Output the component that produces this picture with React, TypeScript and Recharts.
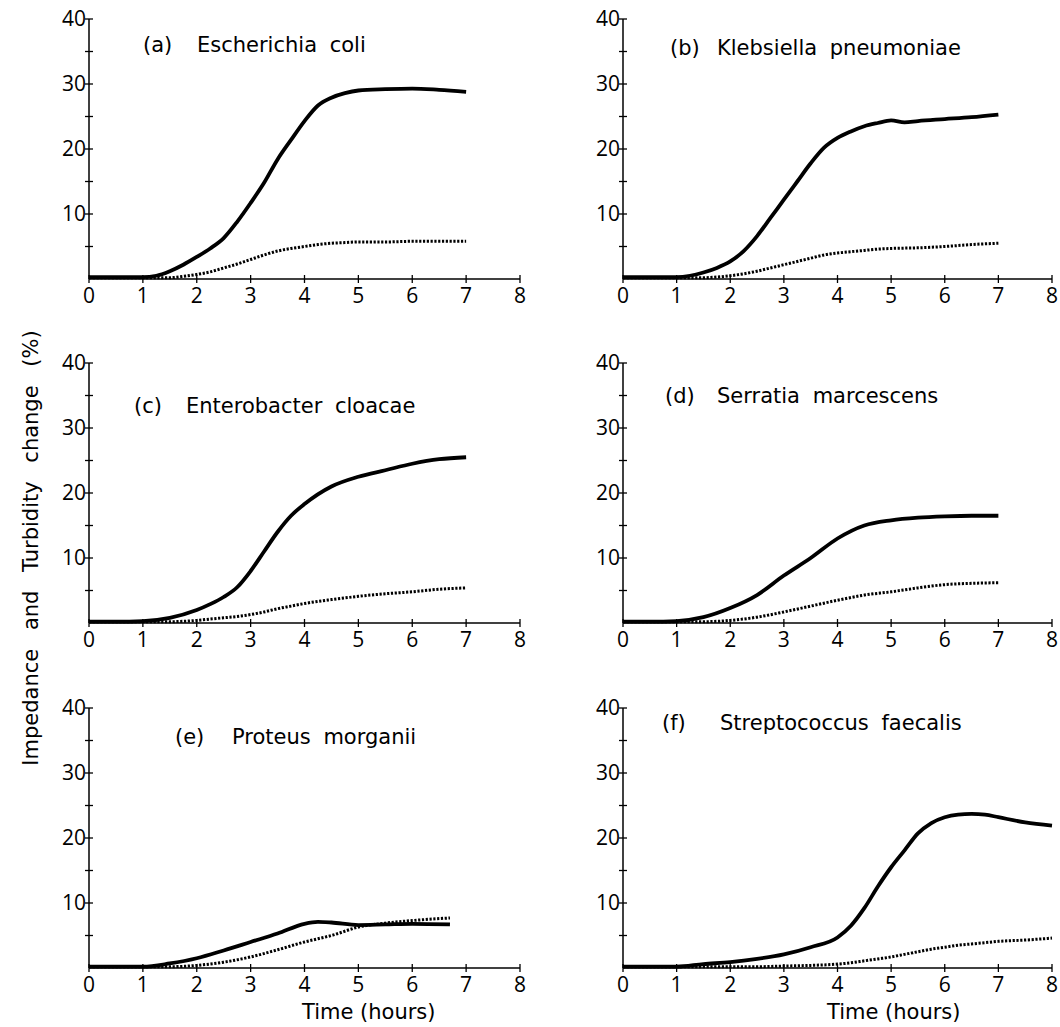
import React from 'react';
import { LineChart, Line, XAxis, YAxis } from 'recharts';

// ---- data (time in hours, values in % change) ----
const timeA = [0, 0.5, 1, 1.25, 1.5, 1.75, 2, 2.25, 2.5, 2.75, 3, 3.25, 3.5, 3.75, 4, 4.25, 4.5, 4.75, 5, 5.5, 6, 6.5, 7];
const impedanceA = [0.3, 0.3, 0.3, 0.5, 1.2, 2.2, 3.4, 4.7, 6.3, 8.8, 11.7, 14.8, 18.4, 21.4, 24.3, 26.7, 27.9, 28.6, 29.0, 29.2, 29.3, 29.1, 28.8];
const turbidityA = [0.2, 0.2, 0.2, 0.2, 0.2, 0.4, 0.7, 1.1, 1.7, 2.3, 3.0, 3.7, 4.3, 4.7, 5.0, 5.3, 5.5, 5.6, 5.7, 5.7, 5.8, 5.8, 5.8];

const timeB = [0, 0.5, 1, 1.25, 1.5, 1.75, 2, 2.25, 2.5, 2.75, 3, 3.25, 3.5, 3.75, 4, 4.25, 4.5, 4.75, 5, 5.25, 5.5, 6, 6.5, 7];
const impedanceB = [0.3, 0.3, 0.3, 0.5, 1.0, 1.7, 2.7, 4.3, 6.6, 9.4, 12.2, 15.0, 17.8, 20.2, 21.7, 22.7, 23.5, 24.0, 24.4, 24.1, 24.3, 24.6, 24.9, 25.3];
const turbidityB = [0.2, 0.2, 0.2, 0.2, 0.2, 0.3, 0.5, 0.8, 1.2, 1.7, 2.2, 2.7, 3.2, 3.7, 4.0, 4.2, 4.4, 4.6, 4.7, 4.75, 4.8, 5.0, 5.3, 5.5];

const timeC = [0, 0.5, 1, 1.5, 2, 2.25, 2.5, 2.75, 3, 3.25, 3.5, 3.75, 4, 4.5, 5, 5.5, 6, 6.5, 7];
const impedanceC = [0.2, 0.2, 0.3, 0.8, 2.0, 2.9, 4.0, 5.5, 8.0, 11.0, 14.0, 16.5, 18.3, 21.0, 22.5, 23.5, 24.5, 25.2, 25.5];
const turbidityC = [0.2, 0.2, 0.2, 0.2, 0.4, 0.6, 0.8, 1.0, 1.3, 1.7, 2.2, 2.6, 3.0, 3.6, 4.1, 4.5, 4.8, 5.2, 5.4];

const timeD = [0, 0.5, 1, 1.5, 2, 2.5, 3, 3.5, 4, 4.5, 5, 5.5, 6, 6.5, 7];
const impedanceD = [0.2, 0.2, 0.3, 0.9, 2.3, 4.3, 7.3, 10.0, 13.0, 15.0, 15.8, 16.2, 16.4, 16.5, 16.5];
const turbidityD = [0.2, 0.2, 0.2, 0.2, 0.4, 0.9, 1.7, 2.6, 3.5, 4.3, 4.8, 5.4, 5.9, 6.1, 6.2];

const timeE = [0, 0.5, 1, 1.5, 2, 2.5, 3, 3.5, 4, 4.25, 4.5, 5, 5.5, 6, 6.7];
const impedanceE = [0.2, 0.2, 0.2, 0.7, 1.5, 2.7, 4.0, 5.3, 6.8, 7.1, 7.0, 6.6, 6.7, 6.8, 6.7];
const turbidityE = [0.2, 0.2, 0.2, 0.2, 0.4, 0.9, 1.7, 2.8, 4.0, 4.5, 5.0, 6.3, 6.9, 7.3, 7.7];

const timeF = [0, 0.5, 1, 1.5, 2, 2.5, 3, 3.5, 4, 4.25, 4.5, 4.75, 5, 5.25, 5.5, 5.75, 6, 6.25, 6.5, 6.75, 7, 7.5, 8];
const impedanceF = [0.2, 0.2, 0.2, 0.6, 0.9, 1.4, 2.1, 3.2, 4.7, 6.5, 9.2, 12.5, 15.5, 18.1, 20.7, 22.3, 23.2, 23.6, 23.7, 23.6, 23.2, 22.4, 21.9];
const turbidityF = [0.2, 0.2, 0.2, 0.2, 0.2, 0.2, 0.3, 0.4, 0.6, 0.8, 1.1, 1.4, 1.7, 2.1, 2.5, 2.9, 3.2, 3.5, 3.7, 3.9, 4.1, 4.3, 4.6];

const xTicks = [0, 1, 2, 3, 4, 5, 6, 7, 8];
const yTicks = [0, 5, 10, 15, 20, 25, 30, 35, 40];

const panelLabels = ['(a)', '(b)', '(c)', '(d)', '(e)', '(f)'];
const organisms = [
  'Escherichia coli',
  'Klebsiella pneumoniae',
  'Enterobacter cloacae',
  'Serratia marcescens',
  'Proteus morganii',
  'Streptococcus faecalis',
];

const TICK_FONT = '"Open Sans", "DejaVu Sans", sans-serif';
const TEXT_FONT = '"DejaVu Sans", "Open Sans", sans-serif';

const build = (t: number[], imp: number[], tur: number[]) =>
  t.map((v, i) => ({ t: v, imp: imp[i], tur: tur[i] }));

const XTick = (props: any) => {
  const { x, y, payload } = props;
  return (
    <g>
      <line x1={x} x2={x} y1={y - 4} y2={y + 4} stroke="#000" strokeWidth={1.3} />
      <text x={x} y={y + 24} textAnchor="middle" fontSize={21} fill="#000" fontFamily={TICK_FONT}>
        {payload.value}
      </text>
    </g>
  );
};

const YTick = (props: any) => {
  const { x, y, payload } = props;
  const v = payload.value;
  return (
    <g>
      {v !== 0 && <line x1={x - 4} x2={x + 4} y1={y} y2={y} stroke="#000" strokeWidth={1.3} />}
      {v !== 0 && v % 10 === 0 && (
        <text x={x - 3} y={y + 7} textAnchor="end" fontSize={21} fill="#000" fontFamily={TICK_FONT}>
          {v}
        </text>
      )}
    </g>
  );
};

type PanelProps = {
  plotLeft: number;
  plotTop: number;
  plotWidth: number;
  rightMargin: number;
  data: { t: number; imp: number; tur: number }[];
};

const Panel = ({ plotLeft, plotTop, plotWidth, rightMargin, data }: PanelProps) => {
  const yW = 44;
  const top = 18;
  const plotH = 260;
  const xH = 36;
  return (
    <div style={{ position: 'absolute', left: plotLeft - yW, top: plotTop - top }}>
      <LineChart
        width={yW + plotWidth + rightMargin}
        height={top + plotH + xH}
        data={data}
        margin={{ top, right: rightMargin, bottom: 0, left: 0 }}
      >
        <XAxis
          dataKey="t"
          type="number"
          domain={[0, 8]}
          ticks={xTicks}
          interval={0}
          height={xH}
          tickSize={0}
          tickMargin={0}
          tickLine={false}
          axisLine={{ stroke: '#000', strokeWidth: 1.5 }}
          tick={<XTick />}
        />
        <YAxis
          type="number"
          domain={[0, 40]}
          ticks={yTicks}
          interval={0}
          width={yW}
          tickSize={0}
          tickMargin={0}
          tickLine={false}
          axisLine={{ stroke: '#000', strokeWidth: 1.5 }}
          tick={<YTick />}
        />
        <Line
          type="monotone"
          dataKey="tur"
          stroke="#000"
          strokeWidth={3}
          strokeDasharray="2.2 1.6"
          dot={false}
          isAnimationActive={false}
        />
        <Line
          type="monotone"
          dataKey="imp"
          stroke="#000"
          strokeWidth={3.8}
          dot={false}
          isAnimationActive={false}
        />
      </LineChart>
    </div>
  );
};

const Title = ({ left, nameLeft, cy, label, name }: { left: number; nameLeft: number; cy: number; label: string; name: string }) => (
  <>
    <div style={{ position: 'absolute', left, top: cy - 13, fontSize: 21, lineHeight: '26px', whiteSpace: 'pre', fontFamily: TEXT_FONT, color: '#000' }}>
      {label}
    </div>
    <div style={{ position: 'absolute', left: nameLeft, top: cy - 13, fontSize: 21, lineHeight: '26px', whiteSpace: 'pre', fontFamily: TEXT_FONT, color: '#000', wordSpacing: 6 }}>
      {name}
    </div>
  </>
);

export default function App() {
  const L = 89;
  const R = 623;
  const rows = [19, 363, 708];
  return (
    <div
      style={{
        position: 'absolute',
        left: 0,
        top: 0,
        width: 1060,
        height: 1027,
        background: '#fff',
        fontFamily: TEXT_FONT,
        overflow: 'hidden',
      }}
    >
      <Panel plotLeft={L} plotTop={rows[0]} plotWidth={431} rightMargin={20} data={build(timeA, impedanceA, turbidityA)} />
      <Panel plotLeft={R} plotTop={rows[0]} plotWidth={429} rightMargin={8} data={build(timeB, impedanceB, turbidityB)} />
      <Panel plotLeft={L} plotTop={rows[1]} plotWidth={431} rightMargin={20} data={build(timeC, impedanceC, turbidityC)} />
      <Panel plotLeft={R} plotTop={rows[1]} plotWidth={429} rightMargin={8} data={build(timeD, impedanceD, turbidityD)} />
      <Panel plotLeft={L} plotTop={rows[2]} plotWidth={431} rightMargin={20} data={build(timeE, impedanceE, turbidityE)} />
      <Panel plotLeft={R} plotTop={rows[2]} plotWidth={429} rightMargin={8} data={build(timeF, impedanceF, turbidityF)} />

      <Title left={143} nameLeft={197} cy={45} label={panelLabels[0]} name={organisms[0]} />
      <Title left={670} nameLeft={717} cy={48} label={panelLabels[1]} name={organisms[1]} />
      <Title left={134} nameLeft={186} cy={406} label={panelLabels[2]} name={organisms[2]} />
      <Title left={665} nameLeft={717} cy={396} label={panelLabels[3]} name={organisms[3]} />
      <Title left={175} nameLeft={232} cy={737} label={panelLabels[4]} name={organisms[4]} />
      <Title left={662} nameLeft={720} cy={723} label={panelLabels[5]} name={organisms[5]} />

      <div
        style={{
          position: 'absolute',
          left: 31,
          top: 548,
          transform: 'translate(-50%, -50%) rotate(-90deg)',
          fontSize: 21,
          whiteSpace: 'pre',
          wordSpacing: 12,
          lineHeight: '26px',
          color: '#000',
        }}
      >
        Impedance and Turbidity change (%)
      </div>
      <div style={{ position: 'absolute', left: 302, top: 999, fontSize: 21, lineHeight: '26px', whiteSpace: 'pre', color: '#000' }}>
        Time (hours)
      </div>
      <div style={{ position: 'absolute', left: 827, top: 999, fontSize: 21, lineHeight: '26px', whiteSpace: 'pre', color: '#000' }}>
        Time (hours)
      </div>
    </div>
  );
}
